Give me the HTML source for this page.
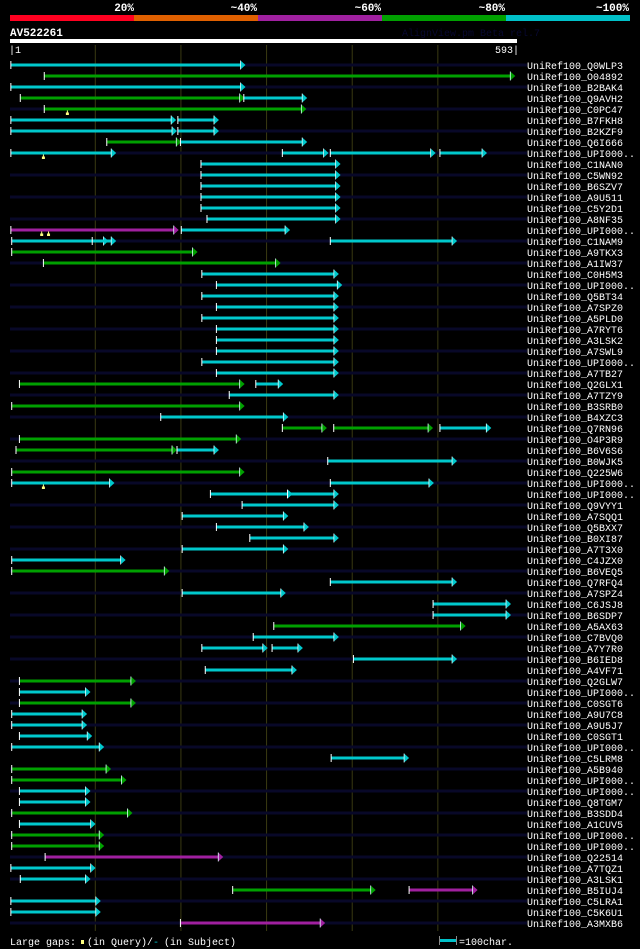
<!DOCTYPE html>
<html><head><meta charset="utf-8">
<style>
html,body{margin:0;padding:0;background:#000;}
svg{display:block;}
text{font-family:"Liberation Mono","DejaVu Sans Mono",monospace;}
</style></head>
<body>
<svg id="chart" width="640" height="949" viewBox="0 0 640 949" xmlns="http://www.w3.org/2000/svg">
  <g>
    <rect x="10" y="15" width="124" height="6" fill="#ff0020"/>
    <rect x="134" y="15" width="124" height="6" fill="#e06000"/>
    <rect x="258" y="15" width="124" height="6" fill="#a020a0"/>
    <rect x="382" y="15" width="124" height="6" fill="#00a000"/>
    <rect x="506" y="15" width="124" height="6" fill="#00c0c8"/>
    <text x="134" y="11" fill="#fff" font-size="11" font-weight="bold" text-anchor="end">20%</text>
    <text x="257" y="11" fill="#fff" font-size="11" font-weight="bold" text-anchor="end">~40%</text>
    <text x="381" y="11" fill="#fff" font-size="11" font-weight="bold" text-anchor="end">~60%</text>
    <text x="505" y="11" fill="#fff" font-size="11" font-weight="bold" text-anchor="end">~80%</text>
    <text x="629" y="11" fill="#fff" font-size="11" font-weight="bold" text-anchor="end">~100%</text>
  </g>
  <text x="10" y="36" fill="#fff" font-size="11" font-weight="bold">AV522261</text>
  <text x="402" y="36" fill="#080830" font-size="10">AlignView.pm Beta rel.7</text>
  <rect x="10" y="39" width="507" height="4" fill="#fff"/>
  <text x="9" y="53" fill="#fff" font-size="10">|1</text>
  <text x="519" y="53" fill="#fff" font-size="10" text-anchor="end">593|</text>
  <g id="grid"></g>
  <g id="rows"></g>
  <g>
    <text x="10" y="945" fill="#fff" font-size="10">Large gaps:</text>
    <rect x="81" y="940" width="3" height="4" fill="#ffff80"/>
    <text x="87" y="945" fill="#fff" font-size="10">(in Query)/</text>
    <text x="153" y="945" fill="#00c0c8" font-size="10">-</text>
    <text x="164" y="945" fill="#fff" font-size="10">(in Subject)</text>
    <rect x="439" y="939" width="17" height="3" fill="#00c0c8"/>
    <rect x="439" y="936" width="1" height="9" fill="#888"/>
    <rect x="456" y="936" width="1" height="9" fill="#888"/>
    <text x="459" y="945" fill="#fff" font-size="10">=100char.</text>
  </g>
</svg>
<script>
const queryLength = 593;
const gridTicks = [100, 200, 300, 400, 500];
const rowLabels = ["Q0WLP3","O04892","B2BAK4","Q9AVH2","C0PC47","B7FKH8","B2KZF9","Q6I666","UPI000..","C1NAN0",
"C5WN92","B6SZV7","A9U511","C5Y2D1","A8NF35","UPI000..","C1NAM9","A9TKX3","A1IW37","C0H5M3",
"UPI000..","Q5BT34","A7SPZ0","A5PLD0","A7RYT6","A3LSK2","A7SWL9","UPI000..","A7TB27","Q2GLX1",
"A7TZY9","B3SRB0","B4XZC3","Q7RN96","O4P3R9","B6V6S6","B0WJK5","Q225W6","UPI000..","UPI000..",
"Q9VYY1","A7SQQ1","Q5BXX7","B0XI87","A7T3X0","C4JZX0","B6VEQ5","Q7RFQ4","A7SPZ4","C6JSJ8",
"B6SDP7","A5AX63","C7BVQ0","A7Y7R0","B6IED8","A4VF71","Q2GLW7","UPI000..","C0SGT6","A9U7C8",
"A9U5J7","C0SGT1","UPI000..","C5LRM8","A5B940","UPI000..","UPI000..","Q8TGM7","B3SDD4","A1CUV5",
"UPI000..","UPI000..","Q22514","A7TQZ1","A3LSK1","B5IUJ4","C5LRA1","C5K6U1","A3MXB6"];
const segRow = [0,1,2,3,3,4,5,5,6,6,7,7,8,8,8,8,9,10,11,12,13,14,15,15,16,16,16,17,18,19,
20,21,22,23,24,25,26,27,28,29,29,30,31,32,33,33,33,34,35,35,36,37,38,38,39,39,40,41,42,43,
44,45,46,47,48,49,50,51,52,53,53,54,55,56,57,58,59,60,61,62,63,64,65,66,67,68,69,70,71,72,
73,74,75,75,76,77,78];
const segStart = [2,41,2,13,274,41,2,197,2,197,114,200,2,319,375,503,224,224,224,224,224,231,2,201,3,97,375,3,40,225,
242,225,242,225,242,242,242,225,242,12,288,257,3,177,319,379,503,12,8,196,372,3,3,375,235,325,272,202,242,281,
202,3,3,375,202,495,495,309,285,225,307,402,229,12,12,12,3,3,12,3,376,3,3,12,12,3,12,3,3,42,
2,13,261,467,2,2,200];
const segEnd = [276,591,276,275,348,347,195,245,196,245,201,348,125,373,498,558,387,387,387,387,387,387,198,328,116,125,523,220,317,385,
389,385,385,385,385,385,385,385,385,275,320,385,275,326,371,495,563,271,196,245,523,275,123,496,331,385,385,326,350,385,
326,136,187,523,323,586,586,533,385,302,343,523,336,148,95,148,91,91,97,111,467,119,137,95,95,144,101,111,111,250,
101,95,428,547,107,107,369];
const segType = ["c","g","c","g","c","g","c","c","c","c","g","c","c","c","c","c","c","c","c","c","c","c","m","c","c","c","c","g","g","c",
"c","c","c","c","c","c","c","c","c","g","c","c","g","c","g","g","c","g","g","c","c","g","c","c","c","c","c","c","c","c",
"c","c","g","c","c","c","c","g","c","c","c","c","c","g","c","g","c","c","c","c","c","g","g","c","c","g","c","g","g","m",
"c","c","g","m","c","c","m"];
const gapRow = [4,8,15,15,38];
const gapPos = [68,40,38,46,40];

const NS = "http://www.w3.org/2000/svg";
const X0 = 10, X1 = 517, ROW0 = 65, ROWH = 11;
const colorOf = {c:"#00c8cc", g:"#00a000", m:"#a020a0"};
function xScale(r){ return X0 + (r - 1) * (X1 - X0) / (queryLength - 1); }
function yScale(i){ return ROW0 + i * ROWH; }
function mk(tag, attrs, parent){
  const el = document.createElementNS(NS, tag);
  for (const k in attrs) el.setAttribute(k, attrs[k]);
  parent.appendChild(el);
  return el;
}
const grid = document.getElementById("grid");
gridTicks.forEach(function(t){
  const gl = mk("line", {x1: xScale(t)+0.5, x2: xScale(t)+0.5, y1: 45, y2: yScale(rowLabels.length-1)+8, stroke: "#3a3a12", "stroke-width": 1}, grid);
  
  
});
const rows = document.getElementById("rows");
rowLabels.forEach(function(lab, i){
  const y = yScale(i);
  if (i % 2 === 0) {
    const bg = mk("rect", {x: X0, y: y - 1.5, width: 527 - X0, height: 3, fill: "#080828"}, rows);
    
    
  }
  const t = mk("text", {x: 527, y: y + 4, fill: "#fff", "font-size": 10}, rows);
  t.textContent = "UniRef100_" + lab;
  
  
});
segStart.forEach(function(s, k){
  const y = yScale(segRow[k]);
  const xs = xScale(s), xe = xScale(segEnd[k]);
  const col = colorOf[segType[k]];
  const g = mk("g", {}, rows);
  
  
  mk("rect", {x: xs, y: y - 1.5, width: Math.max(0, xe - 5 - xs), height: 3, fill: col}, g);
  mk("polygon", {points: (xe-5)+","+(y-4.5)+" "+xe+","+y+" "+(xe-5)+","+(y+4.5), fill: col}, g);
  mk("line", {x1: xe-5, x2: xe-5, y1: y-4.5, y2: y+4.5, stroke: "#e0ffff", "stroke-width": 0.8}, g);
  mk("rect", {x: xs - 0.5, y: y - 4, width: 1, height: 8, fill: "#fff"}, g);
});
gapPos.forEach(function(p, k){
  const y = yScale(gapRow[k]);
  const gm = mk("g", {}, rows);
  
  
  mk("rect", {x: xScale(p) - 0.5, y: y + 1.5, width: 1, height: 2, fill: "#ffff80"}, gm);
  mk("rect", {x: xScale(p) - 1.5, y: y + 3.5, width: 3, height: 2.5, fill: "#ffff80"}, gm);
});
</script>
</body></html>
